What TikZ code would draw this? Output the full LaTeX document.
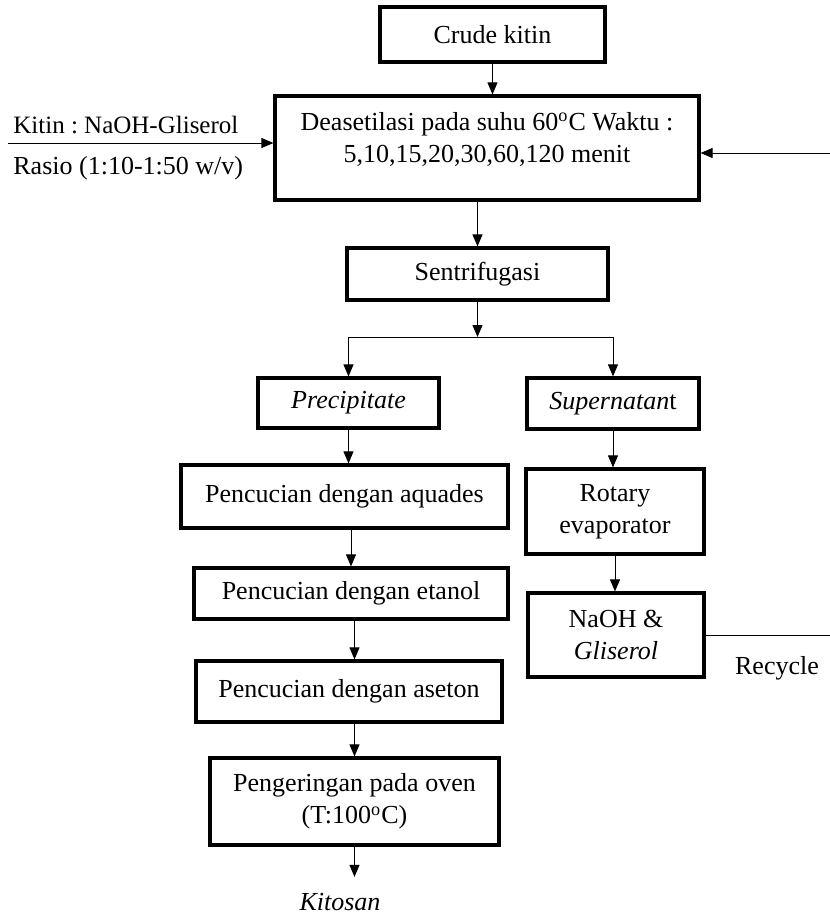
\documentclass[tikz,border=0pt]{standalone}
\usepackage{fontspec}
\setmainfont{Liberation Serif}
\usetikzlibrary{arrows.meta}
\frenchspacing

\tikzset{
  box/.style={draw, line width=1.6pt, align=center, inner sep=0pt},
  size/.style 2 args={minimum width=#1*0.5pt, minimum height=#2*0.5pt},
  flow/.style={-{Triangle[length=6pt,width=5pt]}, line width=0.5pt},
  lbl/.style={inner sep=0pt}
}

\begin{document}
\begin{tikzpicture}[x=0.5pt, y=-0.5pt, font=\fontsize{13}{16}\selectfont]
\useasboundingbox (0,0) rectangle (830,917);
% main line
\node[box, size={225}{55}] (crude) at (492.5,34.5) {Crude kitin};
\node[box, size={424}{104}] (deas) at (487,148)
  {Deasetilasi pada suhu 60\textsuperscript{o}C Waktu :\\ 5,10,15,20,30,60,120 menit\\[-5pt]\mbox{}};
\node[box, size={261}{52}] (sentri) at (477.5,274) {Sentrifugasi};
\coordinate (split) at (482,337);
% precipitate branch
\node[box, size={181}{50}] (precip) at (348.5,403) {\textit{Precipitate}};
\node[box, size={327}{63}] (aquades) at (344.5,496.5) {Pencucian dengan aquades};
\node[box, size={314}{51}] (etanol) at (351,593.5) {Pencucian dengan etanol};
\node[box, size={306}{61}] (aseton) at (349,691.5) {Pencucian dengan aseton};
\node[box, size={289}{87}] (oven) at (354.5,801.5)
  {Pengeringan pada oven\\ (T:100\textsuperscript{o}C)};
\node[lbl] (kitosan) at (340,902) {\textit{Kitosan}};
% supernatant branch
\node[box, size={172}{51}] (super) at (613,403.5) {\textit{Supernatan}t};
\node[box, size={178}{85}] (rotary) at (615,511.5) {Rotary\\ evaporator};
\node[box, size={176}{84}] (naoh) at (616,635) {NaOH \&\\ \textit{Gliserol}};
% side inputs
\coordinate (kin) at (8,143);
\coordinate (rin) at (830,153);
\coordinate (rout) at (830,633);
\node[lbl, anchor=west, font=\fontsize{12.5}{15}\selectfont] (ratio1) at (13,125) {Kitin : NaOH-Gliserol};
\node[lbl, anchor=west] (ratio2) at (13,168) {Rasio (1:10-1:50 w/v)};
\node[lbl] (recycle) at (777,668) {Recycle};

\draw[flow] (crude.south) -- (crude.south |- deas.north);
\draw[flow] (sentri.north |- deas.south) -- (sentri.north);
\draw[flow] (sentri.south) -- (sentri.south |- split);
\draw[line width=0.5pt] (precip.north |- split) -- (super.north |- split);
\draw[flow] (precip.north |- split) -- (precip.north);
\draw[flow] (super.north |- split) -- (super.north);
\draw[flow] (precip.south) -- (precip.south |- aquades.north);
\draw[flow] (etanol.north |- aquades.south) -- (etanol.north);
\draw[flow] (oven.north |- etanol.south) -- (oven.north |- aseton.north);
\draw[flow] (oven.north |- aseton.south) -- (oven.north);
\draw[flow, shorten >=8pt] (oven.south) -- (oven.south |- kitosan.north);
\draw[flow] (super.south) -- (super.south |- rotary.north);
\draw[flow] (rotary.south) -- (rotary.south |- naoh.north);
\draw[flow] (kin) -- (kin -| deas.west);
\draw[flow] (rin) -- (rin -| deas.east);
\draw[line width=0.5pt] (naoh.east) -- (naoh.east -| rout);
\end{tikzpicture}
\end{document}
